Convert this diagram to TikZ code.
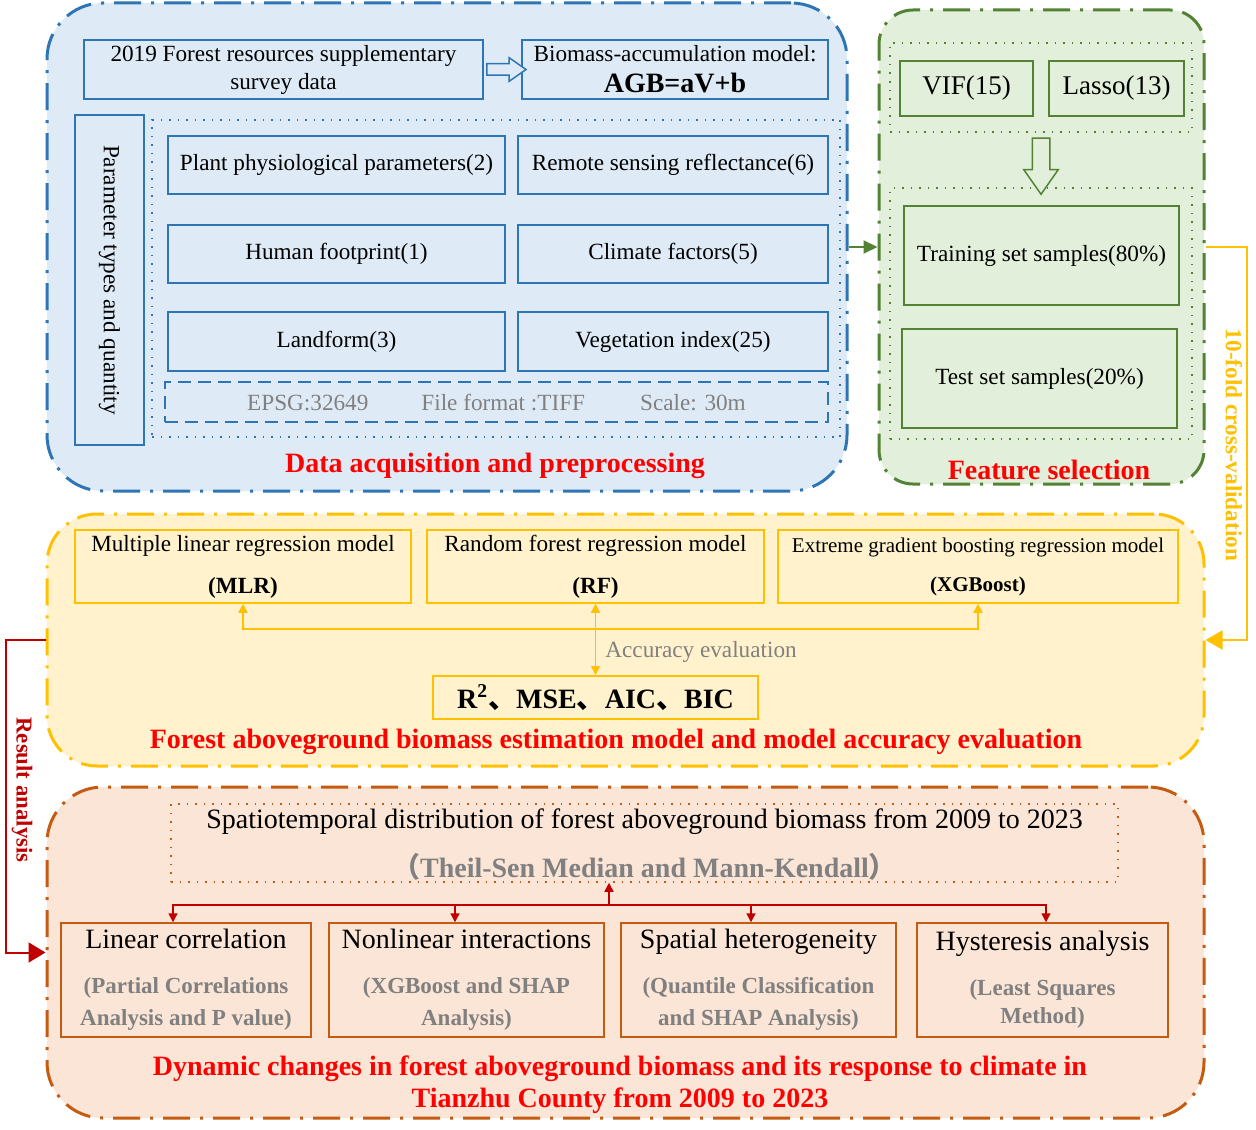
\documentclass[tikz,border=0pt]{standalone}
\usepackage{fontspec}
\setmainfont{Liberation Serif}
\newfontfamily\cjk{Noto Sans CJK SC}
\usetikzlibrary{shapes.arrows,arrows.meta,calc}
\definecolor{blueedge}{HTML}{2E75B6}
\definecolor{bluefill}{HTML}{DEEBF7}
\definecolor{greenedge}{HTML}{548235}
\definecolor{greenfill}{HTML}{E2EFDA}
\definecolor{yellowedge}{HTML}{FFC000}
\definecolor{yellowfill}{HTML}{FFF2CC}
\definecolor{orangeedge}{HTML}{C55A11}
\definecolor{orangefill}{HTML}{FBE5D6}
\definecolor{darkred}{HTML}{C00000}
\definecolor{textgray}{HTML}{808080}
\newcommand\methodline[1]{\textcolor{textgray}{\bfseries #1}}

\begin{document}
\begin{tikzpicture}[x=0.5pt, y=-0.5pt,
    font=\fontsize{11.6}{14}\selectfont,
    panel/.style={draw=#1edge, fill=#1fill, line width=1.5pt,
        dash pattern=on 13.5pt off 5pt on 1.5pt off 5pt, inner sep=0pt},
    box/.style={draw=#1, line width=0.75pt, inner sep=0pt, align=center},
    dotbox/.style={draw=#1, line width=0.75pt, dash pattern=on 0.75pt off 3.5pt, inner sep=0pt},
    headline/.style={text=red, font=\fontsize{14}{16}\selectfont\bfseries, align=center},
    hollow/.style={single arrow, draw=#1, line width=0.75pt, single arrow tip angle=70,
        single arrow head indent=0pt},
    evalline/.style={yellowedge, line width=0.75pt},
    busline/.style={darkred, line width=0.75pt, -{Triangle[length=4.5pt,width=4.5pt]}}
]
    \useasboundingbox (0,0) rectangle (1256,1129);

    \node[panel=blue, rounded corners=28pt, minimum width=400pt, minimum height=244pt] (acq) at (447,247) {};
    \node[panel=green, rounded corners=17pt, minimum width=162.5pt, minimum height=237pt] (sel) at (1041.5,247) {};
    \node[panel=yellow, rounded corners=25pt, minimum width=578.5pt, minimum height=126pt] (est) at (625.5,640) {};
    \node[panel=orange, rounded corners=28pt, minimum width=578.5pt, minimum height=165.5pt] (dyn) at (625.5,952.5) {};

    \node[box=blueedge, minimum width=199.5pt, minimum height=29.5pt] (survey) at (283.5,69.5) {2019 Forest resources supplementary\\survey data};
    \node[box=blueedge, line width=1pt, minimum width=153pt, minimum height=29.5pt] (agb) at (675,69.5) {Biomass-accumulation model:\\[1.5pt]{\fontsize{14}{16}\selectfont\bfseries AGB=aV+b}};
    \node[hollow=blueedge, fill=bluefill, inner sep=2.5pt, single arrow head extend=3pt, minimum height=19.5pt] (toagb) at ($(survey.east)!.5!(agb.west)$) {};

    \node[box=blueedge, rotate=-90, minimum width=165pt, minimum height=34.5pt] (param) at (109.5,280) {Parameter types and quantity};
    \node[dotbox=blueedge, minimum width=344pt, minimum height=158.5pt] (factors) at (496,278.5) {};
    \node[box=blueedge, minimum width=168.5pt, minimum height=29pt] (plant) at (336.5,165) {Plant physiological parameters(2)};
    \node[box=blueedge, minimum width=155pt, minimum height=29pt] (remote) at (673,165) {Remote sensing reflectance(6)};
    \node[box=blueedge, minimum width=168.5pt, minimum height=29pt] (human) at (336.5,254) {Human footprint(1)};
    \node[box=blueedge, minimum width=155pt, minimum height=29pt] (climate) at (673,254) {Climate factors(5)};
    \node[box=blueedge, minimum width=168.5pt, minimum height=29.5pt] (landform) at (336.5,341.5) {Landform(3)};
    \node[box=blueedge, minimum width=155pt, minimum height=29.5pt] (veg) at (673,341.5) {Vegetation index(25)};
    \node[draw=blueedge, line width=0.75pt, dash pattern=on 6.5pt off 3.5pt, inner sep=0pt, text=textgray,
        minimum width=331.5pt, minimum height=20pt] (meta) at (496.5,402) {EPSG:32649\hspace{26.5pt}File format :TIFF\hspace{27.5pt}Scale: 30m};
    \node[headline] (acqtitle) at (495,466) {Data acquisition and preprocessing};

    \node[dotbox=greenedge, minimum width=151pt, minimum height=44.5pt] (vars) at (1041,87.5) {};
    \node[box=greenedge, minimum width=66.5pt, minimum height=27.5pt, font=\fontsize{13.5}{16}\selectfont] (vif) at (966.5,88.5) {VIF(15)};
    \node[box=greenedge, minimum width=67.5pt, minimum height=27.5pt, font=\fontsize{13.5}{16}\selectfont] (lasso) at (1116.5,88.5) {Lasso(13)};
    \node[dotbox=greenedge, minimum width=151pt, minimum height=125.5pt] (split) at (1041,313.5) {};
    \node[hollow=greenedge, fill=greenfill, shape border rotate=270, inner sep=4pt, single arrow head extend=4.25pt,
        minimum height=28pt] (down) at ($(vars.south)!.5!(split.north)$) {};
    \node[box=greenedge, minimum width=137.5pt, minimum height=49.5pt] (train) at (1041.5,255.5) {Training set samples(80\%)};
    \node[box=greenedge, minimum width=137.5pt, minimum height=49.5pt] (test) at (1039.5,378.5) {Test set samples(20\%)};
    \node[headline] (seltitle) at (1049,470) {Feature selection};

    \draw[greenedge, line width=1pt, -{Triangle[length=7pt,width=6.5pt]}] (acq) -- (sel);

    \coordinate (cvx) at (1247,0);
    \draw[yellowedge, line width=1pt, -{Triangle[length=8.5pt,width=9.5pt]}] (sel.east) -- (sel.east -| cvx) |- (est.east);
    \node[rotate=-90, text=yellowedge, font=\fontsize{11.6}{14}\selectfont\bfseries] (cvlabel) at (1234,445) {10-fold cross-validation};

    \coordinate (rax) at (6,0);
    \draw[darkred, line width=1pt, -{Triangle[length=8.5pt,width=10pt]}] (est.west) -- (est.west -| rax) |- (dyn.west);
    \node[rotate=-90, text=darkred, font=\fontsize{11.4}{14}\selectfont\bfseries] (ralabel) at (22,790) {Result analysis};

    \node[box=yellowedge, minimum width=168pt, minimum height=36.5pt] (mlr) at (243,566.5) {Multiple linear regression model\\[7pt]\textbf{(MLR)}};
    \node[box=yellowedge, minimum width=168.5pt, minimum height=36.5pt] (rf) at (595.5,566.5) {Random forest regression model\\[7pt]\textbf{(RF)}};
    \node[box=yellowedge, minimum width=200pt, minimum height=36.5pt, font=\fontsize{10.5}{14}\selectfont] (xgb) at (978,566.5) {Extreme gradient boosting regression model\\[5.5pt]\textbf{(XGBoost)}};
    \node[box=yellowedge, line width=1pt, minimum width=162.5pt, minimum height=21.5pt, font=\fontsize{14}{16}\selectfont\bfseries] (metric) at (595.5,697.5) {R\textsuperscript{2}{\cjk 、}MSE{\cjk 、}AIC{\cjk 、}BIC};
    \draw[evalline, {Triangle[length=4.5pt,width=4.5pt]}-{Triangle[length=4.5pt,width=4.5pt]}] (mlr.south) -- ++(0,25) -| (xgb.south);
    \draw[evalline, {Triangle[length=4.5pt,width=4.5pt]}-{Triangle[length=4.5pt,width=4.5pt]}] (rf.south) -- (metric.north);
    \node[text=textgray, anchor=west, inner sep=0pt] (acclabel) at (605,652) {Accuracy evaluation};
    \node[headline] (esttitle) at (616,742) {Forest aboveground biomass estimation model and model accuracy evaluation};

    \node[dotbox=orangeedge, minimum width=473.5pt, minimum height=39pt] (trend) at (644.5,843) {};
    \node[font=\fontsize{14}{16}\selectfont] (trendname) at (644.5,822) {Spatiotemporal distribution of forest aboveground biomass from 2009 to 2023};
    \node[text=textgray, font=\fontsize{14}{16}\selectfont\bfseries] (trendmethod) at (644.5,867) {{\cjk （}Theil-Sen Median and Mann-Kendall{\cjk ）}};

    \node[box=orangeedge, minimum width=125pt, minimum height=57pt, font=\fontsize{11.5}{16}\selectfont] (lin) at (186,980) {{\fontsize{14}{16}\selectfont Linear correlation}\\[6.5pt]\methodline{(Partial Correlations}\\\methodline{Analysis and P value)}};
    \node[box=orangeedge, minimum width=137.5pt, minimum height=57pt, font=\fontsize{11.5}{16}\selectfont] (non) at (466.5,980) {{\fontsize{14}{16}\selectfont Nonlinear interactions}\\[6.5pt]\methodline{(XGBoost and SHAP}\\\methodline{Analysis)}};
    \node[box=orangeedge, minimum width=137.5pt, minimum height=57pt, font=\fontsize{11.5}{16}\selectfont] (spa) at (758.5,980) {{\fontsize{14}{16}\selectfont Spatial heterogeneity}\\[6.5pt]\methodline{(Quantile Classification}\\\methodline{and SHAP Analysis)}};
    \node[box=orangeedge, minimum width=125.5pt, minimum height=57pt, font=\fontsize{11.5}{14}\selectfont] (hys) at (1042.5,980) {{\fontsize{14}{16}\selectfont Hysteresis analysis}\\[8.5pt]\methodline{(Least Squares}\\\methodline{Method)}};

    \coordinate (bus) at (609,905);
    \draw[busline] (bus) -- (bus |- trend.south);
    \draw[busline] (bus) -| ([xshift=-6.5pt]lin.north);
    \draw[busline] (bus) -| ([xshift=-5.75pt]non.north);
    \draw[busline] (bus) -| ([xshift=-3.75pt]spa.north);
    \draw[busline] (bus) -| ([xshift=1.75pt]hys.north);

    \node[headline] (dyntitle) at (620,1085) {Dynamic changes in forest aboveground biomass and its response to climate in\\Tianzhu County from 2009 to 2023};
\end{tikzpicture}
\end{document}
